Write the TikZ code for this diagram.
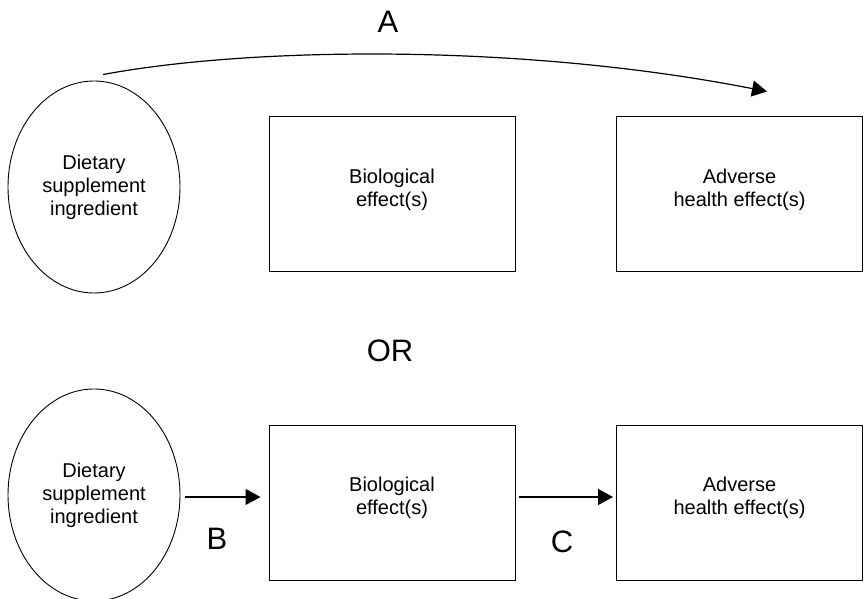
\documentclass[tikz,border=0pt]{standalone}
\usepackage{fontspec}
\setmainfont{Liberation Sans}
\usetikzlibrary{shapes,arrows.meta,positioning}

\begin{document}
\begin{tikzpicture}[x=1pt,y=1pt]
\tikzstyle{ingr}=[
  ellipse,
  draw,
  line width=0.9pt,
  minimum width=172pt,
  minimum height=212pt,
  inner sep=0pt,
  align=center,
  font=\fontsize{20}{23}\selectfont ]
\tikzstyle{effect}=[
  rectangle,
  draw,
  line width=1pt,
  minimum width=246pt,
  minimum height=155pt,
  inner sep=0pt,
  text depth=14pt,
  align=center,
  font=\fontsize{20}{23}\selectfont ]
\tikzstyle{letter}=[inner sep=0pt, font=\fontsize{31}{36}\selectfont]
\tikzstyle{link}=[-{Triangle[length=15pt,width=16pt]}, line width=1.2pt]
\useasboundingbox (0,0) rectangle (865,599);

% direct route
\node[ingr] (ing1) at (94,412) {Dietary\\supplement\\ingredient};
\node[effect] (bio1) at (392,404.5) {Biological\\effect(s)};
\node[effect] (adv1) at (739.5,404.5) {Adverse\\health effect(s)};
\draw[link] ([shift={(9,6)}]ing1.north)
  .. controls (250,552) and (520,556) .. ([shift={(27.5,25)}]adv1.north);
\node[letter] (a) at (388,577) {A};

\node[letter] (or) at (390,248) {OR};

% route through the biological effect
\node[ingr] (ing2) at (94,104) {Dietary\\supplement\\ingredient};
\node[effect] (bio2) at (392,96) {Biological\\effect(s)};
\node[effect] (adv2) at (739.5,96) {Adverse\\health effect(s)};
\draw[link, shorten <=5pt, shorten >=8pt] ([yshift=-2pt]ing2.east) -- ([yshift=6pt]bio2.west);
\draw[link, shorten <=3pt, shorten >=3pt] ([yshift=6pt]bio2.east) -- ([yshift=6pt]adv2.west);
\node[letter] (b) at (217,60) {B};
\node[letter] (c) at (562,57) {C};
\end{tikzpicture}
\end{document}
